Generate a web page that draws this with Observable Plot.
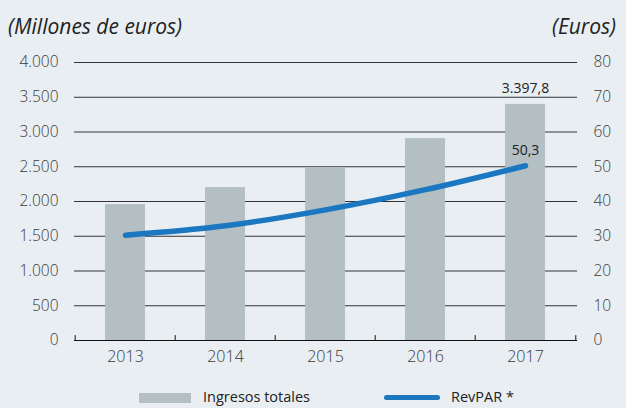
<!DOCTYPE html>
<html><head><meta charset="utf-8">
<script src="https://cdn.jsdelivr.net/npm/d3@7"></script>
<script src="https://cdn.jsdelivr.net/npm/@observablehq/plot@0.6"></script>
<style>
body{margin:0;background:#e9eef2;font-family:"Open Sans",sans-serif;width:626px;height:408px;overflow:hidden;}
#head{position:relative;height:40px;}
#head span{position:absolute;top:12px;font-style:italic;font-size:21px;line-height:28px;color:#222;}
#legend{position:relative;height:33px;font-size:14.5px;color:#222;}
.sw{position:absolute;}
.lb{position:absolute;top:12px;line-height:20px;}
</style></head>
<body>
<div id="head"><span style="left:8px">(Millones de euros)</span><span style="right:10px">(Euros)</span></div>
<div id="chart"></div>
<div id="legend">
  <div class="sw" style="left:139px;top:18px;width:52px;height:10px;background:#b3bfc2"></div>
  <div class="lb" style="left:203px">Ingresos totales</div>
  <div class="sw" style="left:384px;top:20px;width:56px;height:5px;border-radius:3px;background:#1a77c0"></div>
  <div class="lb" style="left:451px">RevPAR *</div>
</div>
<script>
const years = ["2013","2014","2015","2016","2017"];
const ingresos = [1955, 2200, 2490, 2905, 3397.8];
const revpar = [30.3, 33.0, 37.6, 43.4, 50.3];
const leftTicks = [0,500,1000,1500,2000,2500,3000,3500,4000];
const rightTicks = [0,10,20,30,40,50,60,70,80];
const ratio = 4000/80;

const data = years.map((y,i)=>({year:y, ing:ingresos[i], rev:revpar[i]}));
const fmtL = d3.formatLocale({decimal:",", thousands:".", grouping:[3]});
const f0 = fmtL.format(",.0f"), f1 = fmtL.format(",.1f");

const plot = Plot.plot({
  width:626, height:335,
  marginLeft:74, marginRight:49, marginTop:22, marginBottom:35,
  style:{background:"transparent", fontFamily:"Open Sans, sans-serif", fontSize:"15px", color:"#333"},
  x:{domain:years, paddingInner:0.6, paddingOuter:0.3},
  y:{domain:[0,4000]},
  marks:[
    Plot.ruleY(leftTicks.filter(d=>d>0), {stroke:"#333", strokeWidth:1}),
    Plot.axisY({anchor:"left", ticks:leftTicks, tickSize:0, tickPadding:16, tickFormat:f0, label:null, fill:"#3a3a3a", fontSize:15.5, fontWeight:300}),
    Plot.axisY({anchor:"right", ticks:rightTicks.map(d=>d*ratio), tickSize:0, tickPadding:16, tickFormat:d=>String(d/ratio), label:null, fill:"#3a3a3a", fontSize:15.5, fontWeight:300}),
    Plot.axisX({tickSize:0, tickPadding:10, label:null, fill:"#3a3a3a", fontSize:16, fontWeight:300}),
    Plot.barY(data, {x:"year", y:"ing", fill:"#b3bfc2"}),
    Plot.ruleY([0], {stroke:"#111", strokeWidth:1.2}),
    Plot.ruleX(years, {x:d=>d, y1:0, y2:70, dx:-50.3, stroke:"#111"}),
    Plot.ruleX(years.slice(-1), {x:d=>d, y1:0, y2:70, dx:50.3, stroke:"#111"}),
    Plot.line(data, {x:"year", y:d=>d.rev*ratio, stroke:"#1a77c0", strokeWidth:5.5, curve:"monotone-x", strokeLinecap:"round"}),
    Plot.text(data.slice(-1), {x:"year", y:"ing", text:d=>f1(d.ing), dy:-16, fontSize:14, fill:"#222"}),
    Plot.text(data.slice(-1), {x:"year", y:d=>d.rev*ratio, text:d=>f1(d.rev), dy:-15, fontSize:14, fill:"#222"})
  ]
});
document.getElementById("chart").appendChild(plot);
</script>
</body></html>
